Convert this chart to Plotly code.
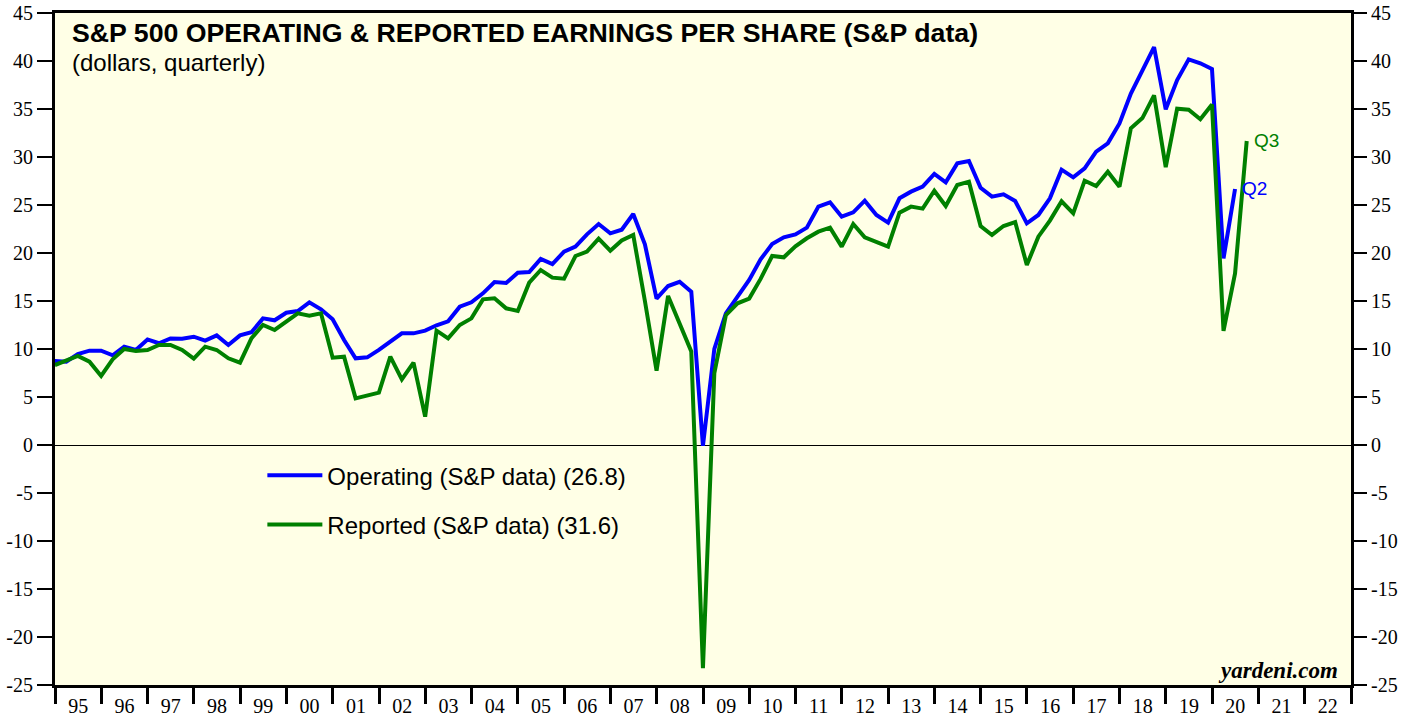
import plotly.graph_objects as go

# quarter-end dates, Q4 1994 .. Q3 2020
years = list(range(1995, 2021))
quarter_ends = ["03-31", "06-30", "09-30", "12-31"]
dates = ["1994-12-31"] + [f"{y}-{q}" for y in years for q in quarter_ends]
dates = dates[:104]

# S&P 500 operating EPS, dollars per quarter (Q4 1994 .. Q2 2020)
operating = [
    8.75,
    8.68, 9.48, 9.83, 9.83,      # 1995
    9.34, 10.24, 9.90, 11.00,    # 1996
    10.60, 11.10, 11.07, 11.28,  # 1997
    10.87, 11.42, 10.42, 11.42,  # 1998
    11.74, 13.19, 12.99, 13.78,  # 1999
    13.96, 14.86, 14.13, 13.09,  # 2000
    10.94, 9.03, 9.13, 9.90,     # 2001
    10.70, 11.63, 11.63, 11.91,  # 2002
    12.47, 12.88, 14.41, 14.86,  # 2003
    15.80, 16.98, 16.88, 17.95,  # 2004
    18.02, 19.38, 18.85, 20.14,  # 2005
    20.66, 21.94, 23.02, 22.05,  # 2006
    22.43, 24.06, 20.90, 15.25,  # 2007
    16.56, 17.00, 15.97, -0.09,  # 2008
    10.02, 13.72, 15.45, 17.19,  # 2009
    19.34, 20.94, 21.63, 21.94,  # 2010
    22.64, 24.83, 25.28, 23.78,  # 2011
    24.24, 25.45, 23.96, 23.16,  # 2012
    25.70, 26.39, 26.91, 28.23,  # 2013
    27.36, 29.34, 29.58, 26.80,  # 2014
    25.87, 26.11, 25.42, 23.09,  # 2015
    23.96, 25.70, 28.68, 27.88,  # 2016
    28.82, 30.56, 31.42, 33.50,  # 2017
    36.60, 38.90, 41.45, 34.97,  # 2018
    38.02, 40.17, 39.76, 39.17,  # 2019
    19.44, 26.67,                # 2020
]

# S&P 500 reported EPS, dollars per quarter (Q4 1994 .. Q3 2020)
reported = [
    8.33,
    8.78, 9.27, 8.68, 7.19,      # 1995
    8.92, 10.00, 9.79, 9.90,     # 1996
    10.42, 10.42, 9.90, 8.99,    # 1997
    10.24, 9.90, 9.03, 8.58,     # 1998
    11.11, 12.50, 11.98, 12.85,  # 1999
    13.72, 13.47, 13.72, 9.10,   # 2000
    9.20, 4.86, 5.20, 5.45,      # 2001
    9.20, 6.84, 8.58, 2.95,      # 2002
    11.91, 11.11, 12.50, 13.19,  # 2003
    15.17, 15.28, 14.24, 13.96,  # 2004
    16.91, 18.23, 17.43, 17.33,  # 2005
    19.69, 20.14, 21.50, 20.24,  # 2006
    21.30, 21.88, 15.00, 7.75,   # 2007
    15.53, 12.70, 9.75, -23.25,  # 2008
    7.50, 13.53, 14.76, 15.25,   # 2009
    17.30, 19.69, 19.55, 20.70,  # 2010
    21.53, 22.22, 22.64, 20.66,  # 2011
    23.02, 21.63, 21.18, 20.66,  # 2012
    24.20, 24.83, 24.62, 26.49,  # 2013
    24.90, 27.08, 27.43, 22.81,  # 2014
    21.88, 22.81, 23.23, 18.75,  # 2015
    21.70, 23.37, 25.39, 24.13,  # 2016
    27.53, 26.98, 28.47, 26.91,  # 2017
    33.00, 34.05, 36.42, 28.95,  # 2018
    35.03, 34.93, 33.93, 35.47,  # 2019
    11.88, 17.88, 31.67,         # 2020
]

op_last, rep_last = 26.8, 31.6
y_ticks = list(range(-25, 50, 5))
y_tick_labels = [str(v) for v in y_ticks]  # plain hyphen minus, as in the original

BLUE = "#0000FF"
GREEN = "#008000"
SANS = "Liberation Sans, Arial, sans-serif"
SERIF = "Liberation Serif, Times New Roman, serif"

fig = go.Figure()

# invisible trace so the right-hand axis gets drawn
fig.add_trace(go.Scatter(x=[], y=[], yaxis="y2", showlegend=False, hoverinfo="skip"))

fig.add_trace(go.Scatter(
    x=dates[:len(operating)], y=operating, mode="lines",
    line=dict(color=BLUE, width=4),
    name=f"Operating (S&P data) ({op_last})", legendgroup="op",
))
fig.add_trace(go.Scatter(
    x=dates[:len(reported)], y=reported, mode="lines",
    line=dict(color=GREEN, width=4),
    name=f"Reported (S&P data) ({rep_last})", legendgroup="rep",
))

yaxis_common = dict(
    range=[-25, 45], tickvals=y_ticks, ticktext=y_tick_labels,
    ticks="outside", ticklen=15, tickwidth=2, tickcolor="black",
    showgrid=False, automargin=False, ticklabeloverflow="allow",
    tickfont=dict(family=SERIF, size=20, color="black"),
)

fig.update_layout(
    width=1419, height=717,
    margin=dict(l=55, r=68, t=13, b=32),
    paper_bgcolor="white",
    plot_bgcolor="#FFFFE6",
    xaxis=dict(
        type="date", range=["1995-01-01", "2023-01-01"],
        dtick="M12", tick0="1995-01-01", tickformat="%y",
        ticklabelmode="period", ticks="outside", ticklen=16, tickwidth=3,
        tickcolor="black", showgrid=False, automargin=False,
        ticklabeloverflow="allow", ticklabelstandoff=-15,
        showline=True, linewidth=3, linecolor="black", mirror=True,
        tickfont=dict(family=SERIF, size=20, color="black"),
    ),
    yaxis=dict(
        **yaxis_common,
        showline=True, linewidth=3, linecolor="black", mirror=True,
        zeroline=True, zerolinecolor="black", zerolinewidth=1,
    ),
    yaxis2=dict(
        **yaxis_common,
        overlaying="y", side="right", showline=False, zeroline=False,
    ),
    legend=dict(
        x=0.16, y=0.345, xanchor="left", yanchor="top",
        bgcolor="rgba(0,0,0,0)", traceorder="grouped", tracegroupgap=15,
        itemwidth=55,
        font=dict(family=SANS, size=24, color="black"),
    ),
    showlegend=True,
)

fig.add_annotation(
    text="<b>S&P 500 OPERATING & REPORTED EARNINGS PER SHARE (S&P data)</b>",
    xref="paper", yref="paper", x=0.0116, y=0.970, xanchor="left", yanchor="middle",
    showarrow=False, font=dict(family=SANS, size=26.7, color="black"),
)
fig.add_annotation(
    text="(dollars, quarterly)",
    xref="paper", yref="paper", x=0.0116, y=0.927, xanchor="left", yanchor="middle",
    showarrow=False, font=dict(family=SANS, size=24, color="black"),
)
fig.add_annotation(
    text="<b><i>yardeni.com</i></b>",
    xref="paper", yref="paper", x=0.9915, y=0.022, xanchor="right", yanchor="middle",
    showarrow=False, font=dict(family=SERIF, size=23, color="black"),
)

# end-point quarter labels
fig.add_annotation(
    text="Q2", x=dates[len(operating) - 1], y=operating[-1], xanchor="left", yanchor="middle",
    xshift=5, showarrow=False, font=dict(family=SANS, size=19, color=BLUE),
)
fig.add_annotation(
    text="Q3", x=dates[len(reported) - 1], y=reported[-1], xanchor="left", yanchor="middle",
    xshift=5, showarrow=False, font=dict(family=SANS, size=19, color=GREEN),
)

# drop the browser's default body margin so the figure sits at the window's corner
fig.write_html(
    "out.html",
    config={"displayModeBar": False},
    post_script="document.body.style.margin = '0px';",
)
